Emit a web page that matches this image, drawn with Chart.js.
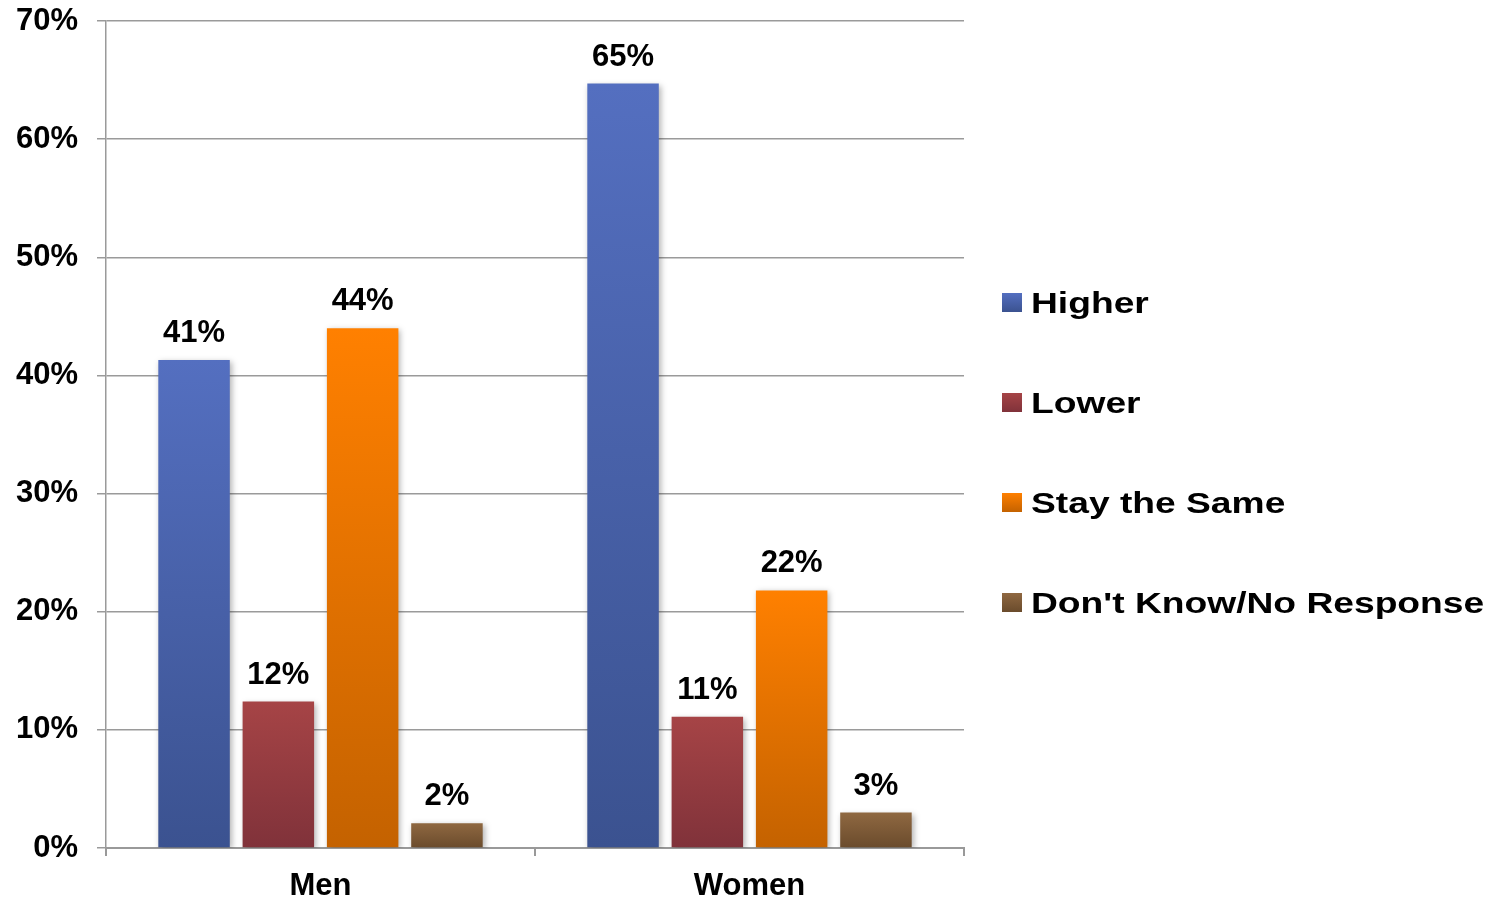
<!DOCTYPE html>
<html>
<head>
<meta charset="utf-8">
<script src="https://cdn.jsdelivr.net/npm/chart.js@4"></script>
<style>
  html, body { margin: 0; padding: 0; background: #fff; }
  #wrap { position: relative; width: 1493px; height: 899px; }
  #legend {
    position: absolute; left: 1002px; top: 288px;
    font: bold 30px "Liberation Sans", Arial, sans-serif; color: #000;
  }
  .item { position: relative; height: 30px; line-height: 30px; margin-bottom: 70px; white-space: nowrap; }
  .box { position: absolute; left: 0; top: 5px; width: 20px; height: 19px; }
  .txt { position: absolute; left: 29px; top: 0; display: inline-block; transform: scaleX(1.24); transform-origin: left center; }
</style>
</head>
<body>
<div id="wrap">
  <canvas id="chart"></canvas>
  <div id="legend"></div>
</div>
<script>
const categories = ['Men', 'Women'];
const seriesNames = ['Higher', 'Lower', 'Stay the Same', "Don't Know/No Response"];
const higher = [41.3, 64.7];
const lower = [12.4, 11.1];
const staySame = [44.0, 21.8];
const dontKnow = [2.1, 3.0];
const yTicks = [0, 10, 20, 30, 40, 50, 60, 70];

// top / bottom colour of each bar gradient
const colorsTop = ['#546fc0', '#a64446', '#ff8000', '#8f6841'];
const colorsBottom = ['#3b5290', '#80323a', '#c46200', '#6a4b2c'];

const FONT = '"Liberation Sans", Arial, sans-serif';

function gradientFor(i) {
  return (c) => {
    const chart = c.chart;
    if (!chart.chartArea || c.type !== 'data') return colorsTop[i];
    const y = chart.scales.y;
    const top = y.getPixelForValue(c.raw);
    const bottom = y.getPixelForValue(0);
    const g = chart.ctx.createLinearGradient(0, top, 0, bottom);
    g.addColorStop(0, colorsTop[i]);
    g.addColorStop(1, colorsBottom[i]);
    return g;
  };
}

const seriesData = [higher, lower, staySame, dontKnow];

const datasets = seriesNames.map((name, i) => ({
  label: name,
  data: seriesData[i],
  backgroundColor: gradientFor(i),
  borderWidth: 0,
  categoryPercentage: 0.786,
  barPercentage: 0.848,
}));

const shadowPlugin = {
  id: 'barShadow',
  beforeDatasetsDraw(chart) {
    const ctx = chart.ctx;
    ctx.save();
    ctx.shadowColor = 'rgba(0,0,0,0.3)';
    ctx.shadowBlur = 6;
    ctx.shadowOffsetX = 2;
    ctx.shadowOffsetY = 2;
  },
  afterDatasetsDraw(chart) {
    chart.ctx.restore();
  }
};

const valueLabels = {
  id: 'valueLabels',
  afterDatasetsDraw(chart) {
    const ctx = chart.ctx;
    ctx.save();
    ctx.font = 'bold 31px ' + FONT;
    ctx.fillStyle = '#000';
    ctx.textAlign = 'center';
    ctx.textBaseline = 'alphabetic';
    chart.data.datasets.forEach((ds, i) => {
      chart.getDatasetMeta(i).data.forEach((bar, j) => {
        ctx.fillText(Math.round(ds.data[j]) + '%', bar.x, bar.y - 18);
      });
    });
    ctx.restore();
  }
};

new Chart(document.getElementById('chart'), {
  type: 'bar',
  data: { labels: categories, datasets: datasets },
  options: {
    responsive: true,
    maintainAspectRatio: false,
    animation: false,
    layout: { padding: { top: 21, right: 529, left: 0, bottom: 0 } },
    plugins: { legend: { display: false }, tooltip: { enabled: false } },
    scales: {
      x: {
        grid: { display: true, drawOnChartArea: false, offset: true, tickLength: 8, color: '#999', lineWidth: 2 },
        border: { display: true, color: '#999', width: 2 },
        ticks: { font: { family: FONT, size: 31, weight: 'bold' }, color: '#000', padding: 12 },
        afterFit(scale) { scale.height = 51; }
      },
      y: {
        min: 0,
        max: 70,
        afterBuildTicks(scale) { scale.ticks = yTicks.map(v => ({ value: v })); },
        grid: { color: '#9a9a9a', lineWidth: 1.5, tickLength: 9 },
        border: { display: true, color: '#9a9a9a', width: 1.5 },
        ticks: {
          font: { family: FONT, size: 31, weight: 'bold' },
          color: '#000',
          padding: 19,
          callback: (v) => v + '%'
        },
        afterFit(scale) {
          scale.width = 106;
          scale.paddingTop = 0;
          scale.paddingBottom = 0;
        }
      }
    }
  },
  plugins: [shadowPlugin, valueLabels]
});

// HTML legend built from the series arrays
const legend = document.getElementById('legend');
seriesNames.forEach((name, i) => {
  const row = document.createElement('div');
  row.className = 'item';
  const box = document.createElement('span');
  box.className = 'box';
  box.style.background = 'linear-gradient(' + colorsTop[i] + ',' + colorsBottom[i] + ')';
  const txt = document.createElement('span');
  txt.className = 'txt';
  txt.textContent = name;
  row.appendChild(box);
  row.appendChild(txt);
  legend.appendChild(row);
});
</script>
</body>
</html>
